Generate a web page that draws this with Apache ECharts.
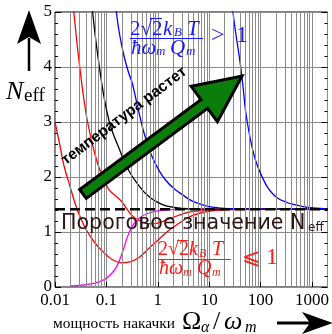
<!DOCTYPE html>
<html><head><meta charset="utf-8">
<script src="https://cdn.jsdelivr.net/npm/echarts/dist/echarts.min.js"></script>
<style>html,body{margin:0;padding:0;background:#fff}#c{width:332px;height:334px}</style>
</head><body><div id="c"></div>
<script>
// ---- data ----
const xTickLabels = ['0.01', '0.1', '1', '10', '100', '1000'];
const yTickLabels = ['0', '1', '2', '3', '4', '5'];
const thresholdX = [0.01, 2000];
const thresholdY = [1.414, 1.414];

const red1X = [0.01, 0.012, 0.015, 0.02, 0.025, 0.03, 0.04, 0.06, 0.09, 0.13, 0.2, 0.3, 0.45, 0.7, 1.0, 1.5, 2.5, 4, 7, 12, 25, 60, 200, 2000];
const red1Y = [3.0, 2.65, 2.2, 1.8, 1.5, 1.3, 1.05, 0.8, 0.62, 0.5, 0.44, 0.46, 0.55, 0.72, 0.85, 1.0, 1.15, 1.27, 1.35, 1.39, 1.405, 1.412, 1.414, 1.414];

const red2X = [0.021, 0.0232, 0.027, 0.0303, 0.036, 0.043, 0.055, 0.07, 0.09, 0.114, 0.15, 0.2, 0.3, 0.45, 0.7, 1.0, 1.5, 2.5, 4, 7, 15, 40, 2000];
const red2Y = [5.4, 5.0, 4.4, 4.0, 3.45, 3.0, 2.55, 2.2, 1.95, 1.76, 1.66, 1.55, 1.32, 1.2, 1.15, 1.16, 1.22, 1.3, 1.36, 1.39, 1.41, 1.414, 1.414];

const blackX = [0.05, 0.054, 0.062, 0.073, 0.09, 0.114, 0.14, 0.18, 0.23, 0.3, 0.4, 0.55, 0.75, 1.0, 1.4, 2, 3, 5, 10, 30, 2000];
const blackY = [5.4, 5.0, 4.5, 4.0, 3.45, 3.0, 2.75, 2.5, 2.25, 2.05, 1.88, 1.72, 1.61, 1.54, 1.48, 1.45, 1.43, 1.42, 1.416, 1.414, 1.414];

const blue1X = [0.145, 0.156, 0.18, 0.22, 0.27, 0.32, 0.4, 0.54, 0.75, 1.04, 1.4, 2, 3, 4.5, 6.5, 10, 15, 25, 50, 150, 2000];
const blue1Y = [5.3, 5.0, 4.6, 4.2, 3.9, 3.7, 3.3, 2.8, 2.4, 2.13, 1.95, 1.8, 1.68, 1.57, 1.51, 1.46, 1.44, 1.425, 1.417, 1.414, 1.414];

const blue2X = [27, 29, 33, 37, 41, 46, 51, 60, 72, 87, 110, 135, 170, 220, 300, 400, 550, 800, 1200, 2000];
const blue2Y = [5.4, 5.0, 4.6, 4.3, 4.0, 3.6, 3.2, 2.8, 2.45, 2.2, 1.98, 1.82, 1.7, 1.61, 1.55, 1.51, 1.48, 1.45, 1.435, 1.425];

const magentaX = [0.02, 0.03, 0.045, 0.06, 0.08, 0.1, 0.13, 0.16, 0.2, 0.25, 0.3, 0.38, 0.5, 0.7, 1.0, 1.5, 2.5, 5, 2000];
const magentaY = [0.02, 0.03, 0.05, 0.07, 0.11, 0.16, 0.26, 0.38, 0.6, 0.88, 1.06, 1.2, 1.29, 1.35, 1.385, 1.402, 1.41, 1.414, 1.414];

// ---- build ----
const zip = (xs, ys) => xs.map((x, i) => [x, ys[i]]);
const GRID = '#8c8c8c';
const SERIF = '"Liberation Serif","DejaVu Serif",serif';
const minorGrid = [];
for (let d = -2; d <= 3; d++) {
  for (let k = 2; k <= 9; k++) {
    const v = Number((k * Math.pow(10, d)).toPrecision(3));
    if (v < 2000) minorGrid.push({ xAxis: v });
  }
}
function curve(name, xs, ys, color, z) {
  return {
    name, type: 'line', data: zip(xs, ys), showSymbol: false, smooth: 0.3,
    clip: true, z, lineStyle: { color, width: 1.3 }, silent: true
  };
}
function xLabel(v) {
  const l = Math.log10(v), r = Math.round(l);
  if (Math.abs(l - r) > 1e-6) return '';
  return xTickLabels[r + 2] || '';
}
const chart = echarts.init(document.getElementById('c'), null, { renderer: 'canvas' });
function txt(x, y, text, font, fill, align, valign, extra) {
  const al = align || 'left', va = valign || 'middle';
  return Object.assign({ type: 'text', z: 200, silent: true, x, y,
    style: { x: 0, y: 0, text, font, fill, textAlign: al, align: al, textVerticalAlign: va, verticalAlign: va } }, extra || {});
}
const a = 37 * Math.PI / 180;
const BLUE = '#1a1aff', RED = '#ff1a1a';
const option = {
  animation: false,
  backgroundColor: '#fff',
  grid: { left: 55, right: 2, top: 12, bottom: 47, show: true, borderColor: '#000', borderWidth: 1, backgroundColor: 'transparent' },
  xAxis: {
    type: 'log', logBase: 10, min: 0.01, max: 2000,
    axisLine: { show: false },
    axisTick: { show: true, inside: true, length: 5, lineStyle: { color: '#000' } },
    axisLabel: { formatter: xLabel, showMaxLabel: false, fontFamily: SERIF, fontSize: 17, color: '#000', margin: 5 },
    splitLine: { show: true, lineStyle: { color: GRID, width: 1 } }
  },
  yAxis: [{
    type: 'value', min: 0, max: 5, interval: 1,
    axisLine: { show: false },
    axisTick: { show: true, inside: true, length: 6, lineStyle: { color: '#000' } },
    minorTick: { show: true, splitNumber: 5, length: 3, lineStyle: { color: '#000' } },
    axisLabel: { formatter: (v) => yTickLabels[Math.round(v)] || '', fontFamily: SERIF, fontSize: 17, color: '#000', margin: 3 },
    splitLine: { show: true, lineStyle: { color: GRID, width: 1 } }
  }, {
    type: 'value', min: 0, max: 5, interval: 1, position: 'right',
    axisLine: { show: false },
    axisTick: { show: true, inside: true, length: 6, lineStyle: { color: '#000' } },
    minorTick: { show: true, splitNumber: 5, length: 3, lineStyle: { color: '#000' } },
    axisLabel: { show: false }, splitLine: { show: false }
  }],
  series: [
    { type: 'line', data: [], z: 1, silent: true,
      markLine: { silent: true, symbol: ['none', 'none'], label: { show: false }, animation: false,
        lineStyle: { color: GRID, width: 1, type: 'solid' }, emphasis: { disabled: true }, data: minorGrid } },
    curve('magenta', magentaX, magentaY, '#ff00ff', 3),
    curve('red1', red1X, red1Y, '#ff0000', 4),
    curve('red2', red2X, red2Y, '#ff0000', 4),
    curve('black', blackX, blackY, '#000000', 4),
    curve('blue1', blue1X, blue1Y, '#0000ff', 4),
    curve('blue2', blue2X, blue2Y, '#0000ff', 4),
    { name: 'threshold', type: 'line', data: zip(thresholdX, thresholdY), showSymbol: false, z: 6, silent: true,
      lineStyle: { color: '#000', width: 2.6, type: [10, 5] } }
  ],
  graphic: [
    // big green arrow
    { type: 'polygon', z: 150, silent: true,
      shape: { points: [[86.3, 198.4], [207.6, 108.4], [217.4, 121.7], [242, 76], [191.2, 86.3], [201, 99.6], [79.7, 189.6]] },
      style: { fill: '#0b7d0b', stroke: '#000', lineWidth: 3, lineJoin: 'miter' } },
    txt(124, 116, 'температура растет', 'bold 15.5px "Liberation Sans",Arial,sans-serif', '#000', 'center', 'middle', { rotation: a }),
    // threshold label
    txt(61, 224, 'Пороговое значение N', '20.6px "DejaVu Sans",sans-serif', '#2b1616', 'left', 'middle'),
    txt(308, 228, 'eff', '12px "DejaVu Sans",sans-serif', '#2b1616', 'left', 'middle'),
    // blue formula
    txt(130, 29, '2√2', '21px ' + SERIF, BLUE, 'left', 'middle'),
    { type: 'line', z: 200, silent: true, shape: { x1: 150, y1: 18.5, x2: 162, y2: 18.5 }, style: { stroke: BLUE, lineWidth: 1 } },
    txt(163, 29, 'k', 'italic 21px ' + SERIF, BLUE, 'left', 'middle'),
    txt(174, 33, 'B', 'italic 13px ' + SERIF, BLUE, 'left', 'middle'),
    txt(187, 29, 'T', 'italic 21px ' + SERIF, BLUE, 'left', 'middle'),
    { type: 'line', z: 200, silent: true, shape: { x1: 130, y1: 38.5, x2: 203, y2: 38.5 }, style: { stroke: BLUE, lineWidth: 1 } },
    txt(131, 48, 'ħω', 'italic 21px ' + SERIF, BLUE, 'left', 'middle'),
    txt(156, 52, 'm', 'italic 13px ' + SERIF, BLUE, 'left', 'middle'),
    txt(170, 48, 'Q', 'italic 21px ' + SERIF, BLUE, 'left', 'middle'),
    txt(186, 52, 'm', 'italic 13px ' + SERIF, BLUE, 'left', 'middle'),
    txt(211, 36, '>', '24px ' + SERIF, BLUE, 'left', 'middle'),
    txt(236, 36, '1', '24px ' + SERIF, BLUE, 'left', 'middle'),
    // red formula
    txt(158, 250, '2√2', '20px ' + SERIF, RED, 'left', 'middle'),
    { type: 'line', z: 200, silent: true, shape: { x1: 177, y1: 240.5, x2: 188, y2: 240.5 }, style: { stroke: RED, lineWidth: 1 } },
    txt(189, 250, 'k', 'italic 20px ' + SERIF, RED, 'left', 'middle'),
    txt(199, 254, 'B', 'italic 12px ' + SERIF, RED, 'left', 'middle'),
    txt(212, 250, 'T', 'italic 20px ' + SERIF, RED, 'left', 'middle'),
    { type: 'line', z: 200, silent: true, shape: { x1: 158, y1: 259.5, x2: 231, y2: 259.5 }, style: { stroke: RED, lineWidth: 1 } },
    txt(159, 269, 'ħω', 'italic 20px ' + SERIF, RED, 'left', 'middle'),
    txt(183, 273, 'm', 'italic 12px ' + SERIF, RED, 'left', 'middle'),
    txt(197, 269, 'Q', 'italic 20px ' + SERIF, RED, 'left', 'middle'),
    txt(212, 273, 'm', 'italic 12px ' + SERIF, RED, 'left', 'middle'),
    txt(242, 258, '⩽', '22px "DejaVu Serif",' + SERIF, RED, 'left', 'middle'),
    txt(266, 258, '1', '24px ' + SERIF, RED, 'left', 'middle'),
    // y-axis label and arrow
    { type: 'polygon', z: 200, silent: true, shape: { points: [[29, 10], [17, 44], [29, 37], [41, 44]] }, style: { fill: '#000' } },
    { type: 'line', z: 200, silent: true, shape: { x1: 29, y1: 38, x2: 29, y2: 71 }, style: { stroke: '#000', lineWidth: 2.5 } },
    txt(6, 92, 'N', 'italic 26px ' + SERIF, '#000', 'left', 'middle'),
    txt(24, 96, 'eff', '19px ' + SERIF, '#000', 'left', 'middle'),
    // x-axis label and arrow
    txt(53, 324, 'мощность накачки', '15.4px ' + SERIF, '#000', 'left', 'middle'),
    txt(182, 322, 'Ω', '26px ' + SERIF, '#000', 'left', 'middle'),
    txt(201, 328, 'α', 'italic 16px ' + SERIF, '#000', 'left', 'middle'),
    txt(213, 322, '/', '26px ' + SERIF, '#000', 'left', 'middle'),
    txt(224, 322, 'ω', 'italic 26px ' + SERIF, '#000', 'left', 'middle'),
    txt(245, 328, 'm', 'italic 16px ' + SERIF, '#000', 'left', 'middle'),
    { type: 'line', z: 200, silent: true, shape: { x1: 277, y1: 323, x2: 312, y2: 323 }, style: { stroke: '#000', lineWidth: 3 } },
    { type: 'polygon', z: 200, silent: true, shape: { points: [[333, 323], [302, 312], [310, 323], [302, 334]] }, style: { fill: '#000' } }
  ]
};
chart.setOption(option);
</script>
</body></html>
